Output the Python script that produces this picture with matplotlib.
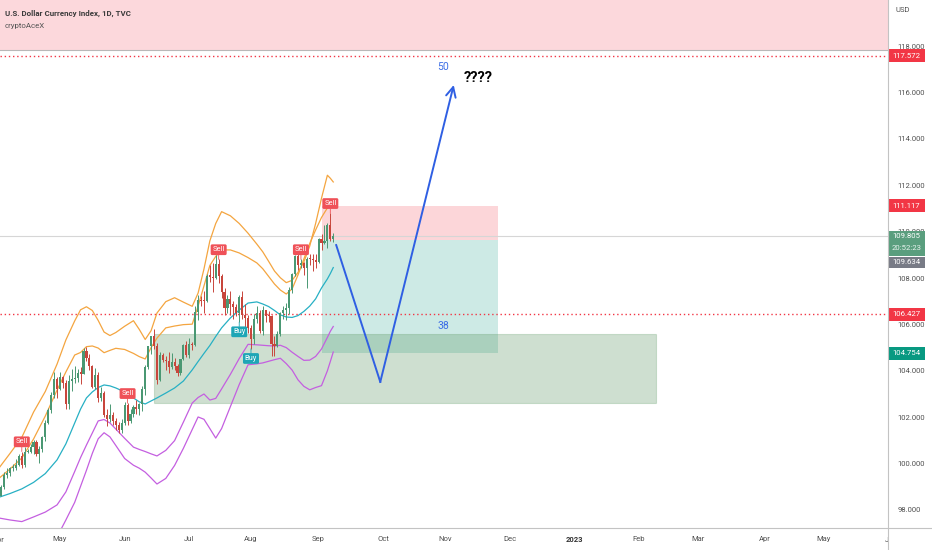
import numpy as np
import pandas as pd
import matplotlib
matplotlib.use('Agg')
import matplotlib.pyplot as plt
from matplotlib.patches import Rectangle
from matplotlib.lines import Line2D
from matplotlib.transforms import blended_transform_factory, Bbox, TransformedBbox

plt.rcParams['font.family'] = ['Roboto', 'DejaVu Sans']

# daily candles, 1 Apr - 8 Sep 2022 (weekdays)
dates = pd.bdate_range('2022-04-01', '2022-09-08')
opens = [98.31, 98.62, 99.01, 99.49, 99.61, 99.80, 99.83, 99.93, 100.32, 99.93,
         100.51, 100.52, 100.70, 100.91, 100.40, 100.61, 101.13, 101.76, 102.31, 102.96,
         103.63, 103.20, 103.74, 103.46, 102.56, 103.55, 103.66, 103.67, 103.92, 103.88,
         104.84, 104.56, 104.19, 103.32, 103.84, 102.84, 103.03, 102.10, 101.92, 102.11,
         101.82, 101.66, 101.43, 101.76, 102.54, 101.84, 102.14, 102.43, 102.34, 102.56,
         103.22, 104.15, 105.07, 105.48, 105.05, 103.62, 104.67, 104.45, 104.43, 104.17,
         104.40, 104.19, 103.91, 104.50, 105.10, 104.69, 105.14, 105.11, 106.52, 107.05,
         107.01, 107.00, 108.07, 108.06, 108.00, 108.60, 108.08, 107.41, 106.69, 107.09,
         106.86, 106.73, 106.49, 107.18, 106.41, 106.26, 105.85, 105.36, 106.22, 106.48,
         105.70, 106.60, 106.38, 106.36, 105.16, 105.08, 105.59, 106.48, 106.61, 106.72,
         107.48, 108.16, 108.96, 108.56, 108.66, 108.44, 108.82, 108.80, 108.78, 108.70,
         109.68, 109.53, 109.61, 110.28, 109.66]
highs = [98.93, 99.07, 99.62, 99.82, 99.86, 99.98, 100.19, 100.40, 100.52, 100.70,
         100.64, 100.86, 101.03, 101.00, 100.76, 101.17, 101.86, 102.39, 103.07, 103.93,
         103.72, 103.94, 103.77, 103.62, 103.84, 104.07, 104.19, 104.06, 104.15, 104.99,
         105.01, 104.71, 104.23, 104.10, 103.93, 103.29, 103.12, 102.34, 102.56, 102.22,
         101.97, 101.79, 101.93, 102.66, 102.60, 102.37, 102.51, 102.76, 102.62, 103.35,
         104.24, 105.07, 105.52, 105.79, 105.20, 104.79, 104.75, 104.64, 104.79, 104.77,
         104.57, 104.28, 104.51, 105.14, 105.28, 105.40, 105.23, 106.79, 107.27, 107.22,
         107.42, 108.19, 108.56, 108.65, 109.00, 108.80, 108.18, 107.58, 107.25, 107.44,
         107.03, 106.88, 107.25, 107.43, 106.86, 106.40, 105.98, 106.45, 106.81, 106.61,
         106.81, 106.64, 106.56, 106.41, 105.51, 105.72, 106.55, 106.81, 106.94, 107.60,
         108.20, 108.98, 109.05, 108.80, 108.68, 108.90, 109.05, 109.05, 109.02, 109.72,
         109.89, 110.27, 110.38, 110.79, 109.95]
lows = [98.14, 98.59, 98.90, 99.40, 99.46, 99.68, 99.72, 99.90, 99.80, 99.85,
        100.44, 100.47, 100.40, 100.34, 100.02, 100.48, 100.99, 101.70, 102.18, 102.83,
        102.84, 103.18, 103.27, 102.37, 102.35, 103.15, 103.49, 103.53, 103.43, 103.86,
        104.42, 104.03, 103.24, 103.21, 102.66, 102.69, 102.03, 101.64, 101.78, 101.65,
        101.43, 101.30, 101.30, 101.65, 101.67, 101.76, 101.99, 102.14, 102.11, 102.25,
        102.96, 104.08, 104.71, 104.94, 103.41, 103.56, 104.36, 104.05, 103.92, 104.08,
        104.02, 103.79, 103.80, 104.46, 104.58, 104.55, 104.91, 105.07, 106.20, 106.79,
        106.50, 106.95, 107.82, 107.41, 107.95, 107.78, 107.13, 106.40, 106.49, 106.39,
        106.23, 106.35, 106.10, 106.25, 105.73, 105.65, 104.95, 105.17, 106.05, 105.64,
        105.54, 106.11, 106.11, 104.64, 104.64, 105.04, 105.50, 106.22, 106.19, 106.43,
        107.37, 108.10, 108.34, 108.42, 108.12, 107.59, 108.57, 108.30, 108.41, 108.63,
        109.22, 109.46, 109.28, 109.60, 109.55]
closes = [98.62, 99.01, 99.49, 99.61, 99.80, 99.83, 99.93, 100.32, 99.93, 100.51,
          100.52, 100.70, 100.91, 100.40, 100.61, 101.13, 101.76, 102.31, 102.96, 103.63,
          103.20, 103.74, 103.46, 102.56, 103.55, 103.66, 103.67, 103.92, 103.88, 104.84,
          104.56, 104.19, 103.32, 103.84, 102.84, 103.03, 102.10, 101.92, 102.11, 101.82,
          101.66, 101.43, 101.76, 102.54, 101.84, 102.14, 102.43, 102.34, 102.56, 103.22,
          104.15, 105.07, 105.48, 105.05, 103.62, 104.67, 104.45, 104.43, 104.17, 104.40,
          104.19, 103.91, 104.50, 105.10, 104.69, 105.14, 105.11, 106.52, 107.05, 107.01,
          107.00, 108.07, 108.06, 108.00, 108.60, 108.08, 107.41, 106.69, 107.09, 106.86,
          106.73, 106.49, 107.18, 106.41, 106.26, 105.85, 105.36, 106.22, 106.48, 105.70,
          106.60, 106.38, 106.36, 105.16, 105.08, 105.59, 106.48, 106.61, 106.72, 107.48,
          108.16, 108.96, 108.56, 108.66, 108.44, 108.82, 108.80, 108.78, 108.70, 109.68,
          109.53, 109.61, 110.28, 109.66, 109.805]

# band indicator
band_dates = ['2022-04-01', '2022-04-07', '2022-04-13', '2022-04-19', '2022-04-25', '2022-04-29',
              '2022-05-04', '2022-05-09', '2022-05-11', '2022-05-13', '2022-05-17', '2022-05-19',
              '2022-05-23', '2022-05-25', '2022-05-27', '2022-06-01', '2022-06-06', '2022-06-08',
              '2022-06-10', '2022-06-14', '2022-06-16', '2022-06-21', '2022-06-24', '2022-06-29',
              '2022-07-04', '2022-07-06', '2022-07-08', '2022-07-12', '2022-07-14', '2022-07-18',
              '2022-07-21', '2022-07-26', '2022-07-29', '2022-08-03', '2022-08-05', '2022-08-09',
              '2022-08-11', '2022-08-15', '2022-08-17', '2022-08-19', '2022-08-23', '2022-08-25',
              '2022-08-29', '2022-08-31', '2022-09-02', '2022-09-06', '2022-09-07', '2022-09-08']
band_mid = [98.54, 98.71, 98.91, 99.19, 99.57, 100.16, 100.85, 101.75, 102.35, 102.83,
            103.09, 103.28, 103.39, 103.35, 103.26, 103.09, 102.83, 102.66, 102.57, 102.70,
            102.83, 103.04, 103.26, 103.56, 104.04, 104.40, 104.75, 105.09, 105.48, 105.85,
            106.28, 106.62, 106.92, 106.97, 106.88, 106.77, 106.60, 106.41, 106.32, 106.30,
            106.38, 106.56, 106.79, 107.10, 107.57, 107.96, 108.19, 108.45]
band_up1 = [99.34, 99.77, 100.24, 101.06, 102.05, 103.17, 103.95, 104.68, 104.79, 105.04,
            105.07, 104.98, 104.78, 104.88, 104.97, 104.92, 104.75, 104.61, 104.51, 105.00,
            105.41, 105.85, 105.93, 105.99, 106.01, 106.79, 107.66, 108.54, 108.93, 109.21,
            109.21, 109.08, 108.88, 108.65, 108.40, 108.07, 107.74, 107.48, 107.31, 107.53,
            108.13, 108.82, 109.49, 110.07, 110.61, 111.02, 111.10, 111.15]
band_up2 = [99.77, 100.44, 101.13, 102.22, 103.11, 104.29, 105.33, 106.15, 106.63, 106.76,
            106.60, 106.17, 105.67, 105.52, 105.65, 105.92, 106.16, 105.78, 105.35, 105.73,
            106.49, 106.98, 107.15, 106.96, 106.78, 107.35, 108.39, 109.60, 110.35, 110.86,
            110.68, 110.35, 109.93, 109.46, 109.13, 108.72, 108.30, 108.01, 107.80, 107.90,
            108.24, 108.69, 109.38, 110.35, 111.44, 112.43, 112.30, 112.14]
band_lo1 = [97.66, 97.57, 97.50, 97.70, 97.91, 98.22, 98.78, 99.66, 100.26, 100.80,
            101.32, 101.84, 101.90, 101.75, 101.49, 101.09, 100.71, 100.61, 100.52, 100.42,
            100.33, 100.57, 100.99, 101.79, 102.61, 102.85, 103.00, 102.74, 102.81, 103.22,
            103.85, 104.53, 105.14, 105.12, 105.10, 105.08, 105.07, 105.10, 105.00, 104.80,
            104.62, 104.45, 104.46, 104.62, 104.94, 105.44, 105.70, 105.91]
band_lo2_dates = band_dates[5:]
band_lo2 = [96.84, 97.57, 98.33, 99.02, 99.71, 100.44, 101.07, 101.33, 101.15, 100.78,
            100.22, 99.93, 99.80, 99.63, 99.38, 99.12, 99.36, 99.92, 100.66, 101.47,
            102.01, 101.91, 101.51, 101.10, 101.51, 102.46, 103.41, 104.26, 104.30, 104.34,
            104.41, 104.48, 104.54, 104.31, 104.03, 103.61, 103.33, 103.18, 103.28, 103.36,
            104.00, 104.40, 104.81]

sell_dates = ['2022-04-13', '2022-06-02', '2022-07-15', '2022-08-24', '2022-09-07']
buy_dates = ['2022-07-26', '2022-08-01']

# drawings
supply_bottom = 117.83
red_levels = [117.572, 106.427]
last_price = 109.805
pos_start, pos_end = '2022-09-02', '2022-11-25'
pos_entry, pos_stop, pos_target = 109.634, 111.117, 104.754
zone_start, zone_end = '2022-06-15', '2023-02-09'
zone_low, zone_high = 102.61, 105.59
path_dates = ['2022-09-09', '2022-09-30', '2022-11-04']
path_prices = [109.42, 103.52, 116.32]

tick_dates = ['2022-05-02', '2022-06-01', '2022-07-01', '2022-08-01', '2022-09-01',
              '2022-10-03', '2022-11-01', '2022-12-01', '2023-01-02', '2023-02-01',
              '2023-03-01', '2023-04-03', '2023-05-01']
tick_labels = ['May', 'Jun', 'Jul', 'Aug', 'Sep', 'Oct', 'Nov', 'Dec', '2023',
               'Feb', 'Mar', 'Apr', 'May']
edge_ticks = [('2022-04-01', 'Apr'), ('2023-06-01', 'Jun')]

all_days = pd.bdate_range('2022-04-01', '2023-06-30')
bar_of = {d: i for i, d in enumerate(all_days)}


def bar_no(s):
    return bar_of[pd.Timestamp(s)]


UP, DOWN = '#4a9873', '#c8463c'
ORANGE, TEAL, PURPLE = '#f4a540', '#27b0c4', '#c45fe0'
RED = '#f23645'
GRID = '#c3c3c3'

W, H = 932, 550
fig = plt.figure(figsize=(W / 100, H / 100), dpi=100)
ax = fig.add_axes([0, 22 / H, 888 / W, 528 / H])
ax.set_xlim(0.58, 302.8)
ax.set_ylim(97.224, 119.983)
ypx = (119.983 - 97.224) / 528  # price units per pixel

# zones
ax.axhspan(supply_bottom, 125, color='#fcd8dc', lw=0, zorder=0)
ax.axhline(supply_bottom, color='#b8b8b8', lw=0.8, zorder=0.5)
x0, x1 = bar_no(pos_start), bar_no(pos_end)
ax.add_patch(Rectangle((x0, pos_entry), x1 - x0, pos_stop - pos_entry,
                       fc=RED, alpha=0.2, lw=0, zorder=1))
ax.add_patch(Rectangle((x0, pos_target), x1 - x0, pos_entry - pos_target,
                       fc='#089981', alpha=0.2, lw=0, zorder=1))
z0, z1 = bar_no(zone_start), bar_no(zone_end)
ax.add_patch(Rectangle((z0, zone_low), z1 - z0, zone_high - zone_low,
                       fc='#4c8c52', alpha=0.27, ec='#5f9a66', lw=0.8, zorder=1))

for lv in red_levels:
    ax.axhline(lv, color=RED, lw=1.0, ls=(0, (1, 2)), zorder=2)
ax.axhline(last_price, color='#d6d6d6', lw=0.8, zorder=1.5)

# bands
bx = [bar_no(d) for d in band_dates]
ax.plot(bx, band_up2, color=ORANGE, lw=0.9, zorder=2)
ax.plot(bx, band_up1, color=ORANGE, lw=0.9, zorder=2)
ax.plot(bx, band_mid, color=TEAL, lw=0.9, zorder=2)
ax.plot(bx, band_lo1, color=PURPLE, lw=0.9, zorder=2)
ax.plot([bar_no(d) for d in band_lo2_dates], band_lo2, color=PURPLE, lw=0.9, zorder=2)

# candles
o = np.array(opens)
h = np.array(highs)
l = np.array(lows)
c = np.array(closes)
x = np.array([bar_no(d) for d in dates])
col = np.where(c >= o, UP, DOWN)
ax.vlines(x, l, h, colors=col, lw=0.7, zorder=3)
body = np.maximum(np.abs(c - o), 0.05)
ax.bar(x, body, bottom=np.minimum(o, c), width=0.72, color=col, lw=0, zorder=3.5)

# signal labels with a short pointer to the bar
for d in sell_dates:
    i = bar_no(d)
    ax.annotate('', xy=(i, h[i]), xytext=(0, 3.2), textcoords='offset points',
                arrowprops=dict(arrowstyle='-', color='#ef5158', lw=0.6,
                                shrinkA=0, shrinkB=0), zorder=5)
    ax.annotate('Sell', xy=(i, h[i]), xytext=(0, 7), textcoords='offset points',
                ha='center', va='center', fontsize=5.4, color='white', zorder=6,
                bbox=dict(boxstyle='round,pad=0.25,rounding_size=0.2', fc='#ef5158', ec='none'))
for d in buy_dates:
    i = bar_no(d)
    ax.annotate('', xy=(i, l[i]), xytext=(0, -3.2), textcoords='offset points',
                arrowprops=dict(arrowstyle='-', color='#1ea6b6', lw=0.6,
                                shrinkA=0, shrinkB=0), zorder=5)
    ax.annotate('Buy', xy=(i, l[i]), xytext=(0, -7), textcoords='offset points',
                ha='center', va='center', fontsize=5.4, color='white', zorder=6,
                bbox=dict(boxstyle='round,pad=0.25,rounding_size=0.2', fc='#1ea6b6', ec='none'))

# projected path
BLUE = '#2f5fe3'
px = [bar_no(d) for d in path_dates]
ax.plot(px[:2], path_prices[:2], color=BLUE, lw=1.4, zorder=5)
ax.annotate('', xy=(px[2], path_prices[2]), xytext=(px[1], path_prices[1]),
            arrowprops=dict(arrowstyle='->,head_length=0.7,head_width=0.35',
                            color=BLUE, lw=1.4, shrinkA=0, shrinkB=0), zorder=5)
ax.text(bar_no('2022-10-31') + 0.4, 117.1, '50', color='#3b6de6', fontsize=7.5,
        ha='center', va='center', zorder=6)
ax.text(bar_no('2022-10-31') + 0.4, 105.93, '38', color='#3b6de6', fontsize=7.5,
        ha='center', va='center', zorder=6)
ax.text(bar_no('2022-11-16') + 0.3, 116.62, '????', color='black', fontsize=10.5,
        fontweight='bold', ha='center', va='center', zorder=6)

# axes styling
for s in ax.spines.values():
    s.set_visible(False)
ax.yaxis.tick_right()
ax.set_yticks(np.arange(98, 119, 2))
ax.set_yticklabels([f'{v:.3f}' for v in np.arange(98, 119, 2)])
ax.tick_params(axis='y', length=0, pad=7, labelsize=5.5, labelcolor='#505050')
ax.set_xticks([bar_no(d) for d in tick_dates])
ax.set_xticklabels(tick_labels)
ax.tick_params(axis='x', length=0, pad=6, labelsize=5.5, labelcolor='#505050')
for t in ax.get_xticklabels():
    if t.get_text() == '2023':
        t.set_fontweight('bold')
        t.set_color('#333333')

clip = TransformedBbox(Bbox([[0, 0], [888 / W, 1]]), fig.transFigure)
bt = blended_transform_factory(ax.transData, ax.transAxes)
for d, lab in edge_ticks:
    t = ax.text(bar_no(d), -12 / 528, lab, transform=bt, ha='center', va='center',
                fontsize=5.5, color='#505050', clip_on=False)
    t.set_clip_box(clip)
    t.set_clip_on(True)

# price scale tags
yt = blended_transform_factory(ax.transAxes, ax.transData)
bw = 36 / 888
tx = 1 + 18.5 / 888


def tag(top, bottom, color):
    ax.add_patch(Rectangle((1 + 1.2 / 888, bottom), bw, top - bottom, transform=yt,
                           fc=color, lw=0, clip_on=False, zorder=7))


for v, colr in [(117.572, RED), (111.117, RED), (106.427, RED), (104.754, '#089981')]:
    tag(v + 6.5 * ypx, v - 6.5 * ypx, colr)
    ax.text(tx, v, f'{v:.3f}', transform=yt, ha='center', va='center', fontsize=5.6,
            color='white', clip_on=False, zorder=8)
tag(last_price + 5.5 * ypx, last_price - 19.5 * ypx, '#5a9e7e')
ax.text(tx, last_price, f'{last_price:.3f}', transform=yt, ha='center', va='center',
        fontsize=5.6, color='white', clip_on=False, zorder=8)
ax.text(tx, last_price - 12.3 * ypx, '20:52:23', transform=yt, ha='center', va='center',
        fontsize=5.6, color='#e8f3ee', clip_on=False, zorder=8)
tag(pos_entry - 16.8 * ypx, pos_entry - 28 * ypx, '#787b86')
ax.text(tx, pos_entry - 22.4 * ypx, f'{pos_entry:.3f}', transform=yt, ha='center',
        va='center', fontsize=5.6, color='white', clip_on=False, zorder=8)

# frame lines of the price and time scales
fig.add_artist(Line2D([0, 1], [22 / H, 22 / H], color=GRID, lw=0.8))
fig.add_artist(Line2D([888 / W, 888 / W], [0, 1], color=GRID, lw=0.8))

fig.text(895 / W, 1 - 10 / H, 'USD', fontsize=5.5, color='#505050', va='center')
fig.text(5 / W, 1 - 13.5 / H, 'U.S. Dollar Currency Index, 1D, TVC', fontsize=5.7,
         fontweight='semibold', color='#3c3c3c', va='center')
fig.text(5 / W, 1 - 26 / H, 'cryptoAceX', fontsize=5.7, color='#555555', va='center')

fig.savefig('out.png', dpi=100, facecolor='white')
